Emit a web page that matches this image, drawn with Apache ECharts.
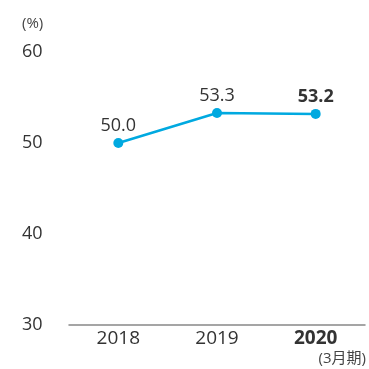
<!DOCTYPE html>
<html>
<head>
<meta charset="utf-8">
<script src="https://cdn.jsdelivr.net/npm/echarts@6/dist/echarts.min.js"></script>
<style>
html,body{margin:0;padding:0;background:#fff;}
#chart{width:369px;height:369px;}
</style>
</head>
<body>
<div id="chart"></div>
<script>
const categories = ['2018', '2019', '2020'];
const values = [50.0, 53.3, 53.2];
const yTicks = [30, 40, 50, 60];
const boldIndex = 2;

const FONT = '"Open Sans", "Noto Sans", "Noto Sans CJK JP", sans-serif';
const chart = echarts.init(document.getElementById('chart'));

chart.setOption({
  animation: false,
  grid: { left: 69, right: 4, top: 52, bottom: 44 },
  xAxis: {
    type: 'category',
    data: categories.map((c, i) => ({
      value: c,
      textStyle: { fontWeight: i === boldIndex ? 'bold' : 'normal' }
    })),
    boundaryGap: true,
    axisLine: { lineStyle: { color: '#888', width: 1.5 } },
    axisTick: { show: false },
    axisLabel: { color: '#333', fontSize: 19, fontFamily: FONT, margin: 4 }
  },
  yAxis: {
    type: 'value',
    min: yTicks[0],
    max: yTicks[yTicks.length - 1],
    interval: 10,
    splitLine: { show: false },
    axisLine: { show: false },
    axisTick: { show: false },
    axisLabel: {
      color: '#333', fontSize: 18, fontFamily: FONT,
      align: 'left', margin: 47
    }
  },
  graphic: [
    { type: 'text', left: 22, top: 16,
      style: { text: '(%)', fill: '#444', fontSize: 15, fontFamily: FONT } },
    { type: 'text', right: 3, top: 351,
      style: { text: '(3月期)', fill: '#444', fontSize: 15, fontFamily: FONT } }
  ],
  series: [{
    type: 'line',
    data: values.map((v, i) => ({
      value: v,
      label: { fontWeight: i === boldIndex ? 'bold' : 'normal' }
    })),
    lineStyle: { color: '#00A9E0', width: 2.5 },
    itemStyle: { color: '#00A9E0' },
    symbol: 'circle',
    symbolSize: 10,
    label: {
      show: true, position: 'top', distance: 3,
      color: '#333', fontSize: 18, fontFamily: FONT,
      formatter: p => p.value.toFixed(1)
    }
  }]
});
</script>
</body>
</html>
